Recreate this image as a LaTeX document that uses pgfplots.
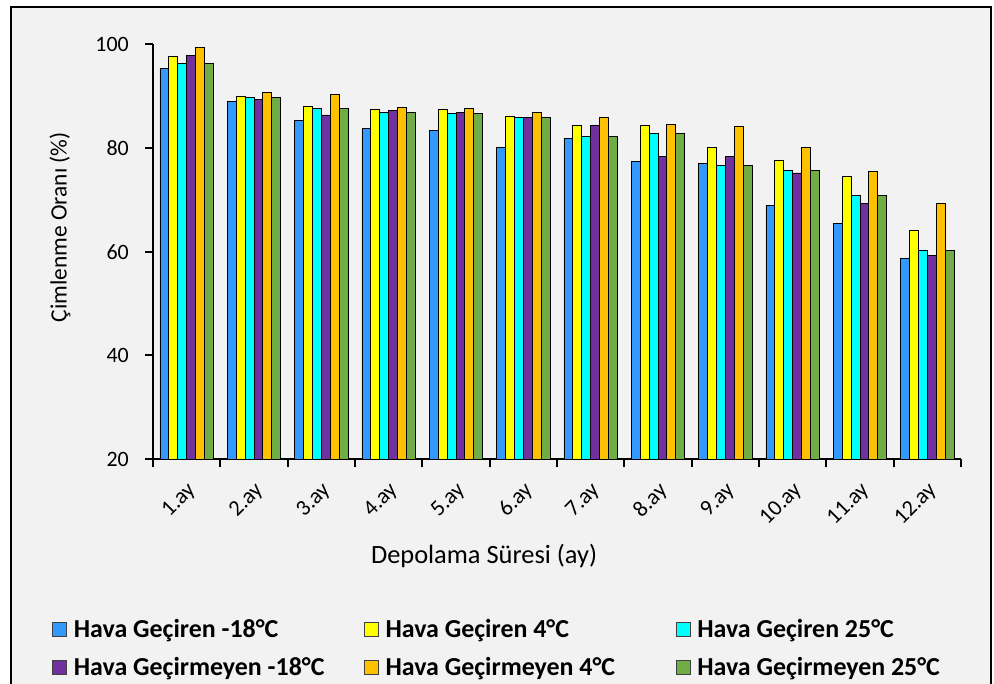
\documentclass[border=0pt]{standalone}
\usepackage{pgfplots}
\pgfplotsset{compat=1.18}
\usepackage{fontspec}
\setmainfont{Carlito}
\definecolor{cBlue}{HTML}{3399FF}
\definecolor{cYellow}{HTML}{FFFF00}
\definecolor{cCyan}{HTML}{00FFFF}
\definecolor{cPurple}{HTML}{7030A0}
\definecolor{cOrange}{HTML}{FFC000}
\definecolor{cGreen}{HTML}{70AD47}
\definecolor{bgGray}{HTML}{F2F2F2}
\begin{document}
\begin{tikzpicture}[x=1bp,y=1bp]
\path[use as bounding box] (0,0) rectangle (994,684);
\fill[white] (0,0) rectangle (994,684);
\filldraw[fill=bgGray, draw=black, line width=2bp] (11,-10) rectangle (991,677);
\begin{axis}[
  at={(153bp,225bp)}, anchor=south west,
  scale only axis, width=808bp, height=414.5bp,
  ymin=20, ymax=100, ytick={20,40,60,80,100},
  xmin=-0.5, xmax=11.5,
  ybar=0pt, bar width=8.9bp,
  xtick={0,...,11},
  xticklabels={1.ay,2.ay,3.ay,4.ay,5.ay,6.ay,7.ay,8.ay,9.ay,10.ay,11.ay,12.ay},
  minor xtick={-0.5,0.5,...,11.5},
  axis x line*=bottom, axis y line*=left,
  axis line style={line width=2bp, black},
  tick align=outside,
  major tick length=8bp, minor tick length=8bp,
  major x tick style={draw=none},
  minor x tick style={line width=2bp, black},
  ytick style={line width=2bp, black},
  /pgf/number format/assume math mode=true,
  tick label style={font=\fontsize{22}{25}\selectfont},
  xticklabel style={rotate=45, anchor=north east, inner sep=1bp, xshift=-9bp, yshift=-8bp, font=\fontsize{22.5}{26}\selectfont},
  yticklabel style={inner sep=0pt, xshift=-16bp},
  ylabel={Çimlenme Oranı (\%)},
  ylabel style={at={(axis description cs:-0.115,0.559)}, anchor=center, font=\fontsize{23.5}{28}\selectfont},
  xlabel={Depolama Süresi (ay)},
  xlabel style={at={(axis description cs:0.4097,-0.251)}, anchor=base, font=\fontsize{26.5}{30}\selectfont},
  legend columns=3,
  legend style={at={(axis description cs:-0.125,-0.382)}, anchor=north west, draw=none, fill=none,
    font=\bfseries\fontsize{26}{30}\selectfont, inner sep=0pt, row sep=14bp,
    /tikz/every odd column/.append style={column sep=5bp},
    /tikz/every even column/.append style={column sep=0bp}},
  legend image code/.code={\draw[#1, line width=0.7bp, draw=black!75] (0bp,-7bp) rectangle (14bp,7bp);},
  every axis plot/.append style={draw=black, line width=0.9bp},
]
\addplot[fill=cBlue] coordinates {(0,95.4) (1,89.0) (2,85.4) (3,83.7) (4,83.4) (5,80.1) (6,81.9) (7,77.4) (8,77.0) (9,68.9) (10,65.4) (11,58.7)};
\addlegendentry{\makebox[288bp][l]{Hava Geçiren -18°C}}
\addplot[fill=cYellow] coordinates {(0,97.6) (1,89.9) (2,88.1) (3,87.4) (4,87.4) (5,86.2) (6,84.4) (7,84.4) (8,80.1) (9,77.7) (10,74.6) (11,64.1)};
\addlegendentry{\makebox[288bp][l]{Hava Geçiren 4°C}}
\addplot[fill=cCyan] coordinates {(0,96.4) (1,89.7) (2,87.6) (3,86.9) (4,86.6) (5,85.9) (6,82.3) (7,82.9) (8,76.6) (9,75.7) (10,70.9) (11,60.2)};
\addlegendentry{\makebox[288bp][l]{Hava Geçiren 25°C}}
\addplot[fill=cPurple] coordinates {(0,97.9) (1,89.4) (2,86.4) (3,87.2) (4,86.9) (5,85.9) (6,84.4) (7,78.4) (8,78.4) (9,75.2) (10,69.4) (11,59.2)};
\addlegendentry{\makebox[288bp][l]{Hava Geçirmeyen -18°C}}
\addplot[fill=cOrange] coordinates {(0,99.4) (1,90.7) (2,90.4) (3,87.9) (4,87.6) (5,86.9) (6,85.9) (7,84.6) (8,84.2) (9,80.1) (10,75.4) (11,69.4)};
\addlegendentry{\makebox[288bp][l]{Hava Geçirmeyen 4°C}}
\addplot[fill=cGreen] coordinates {(0,96.4) (1,89.7) (2,87.6) (3,86.9) (4,86.6) (5,85.9) (6,82.3) (7,82.9) (8,76.6) (9,75.7) (10,70.9) (11,60.2)};
\addlegendentry{\makebox[288bp][l]{Hava Geçirmeyen 25°C}}
\end{axis}
\end{tikzpicture}
\end{document}
